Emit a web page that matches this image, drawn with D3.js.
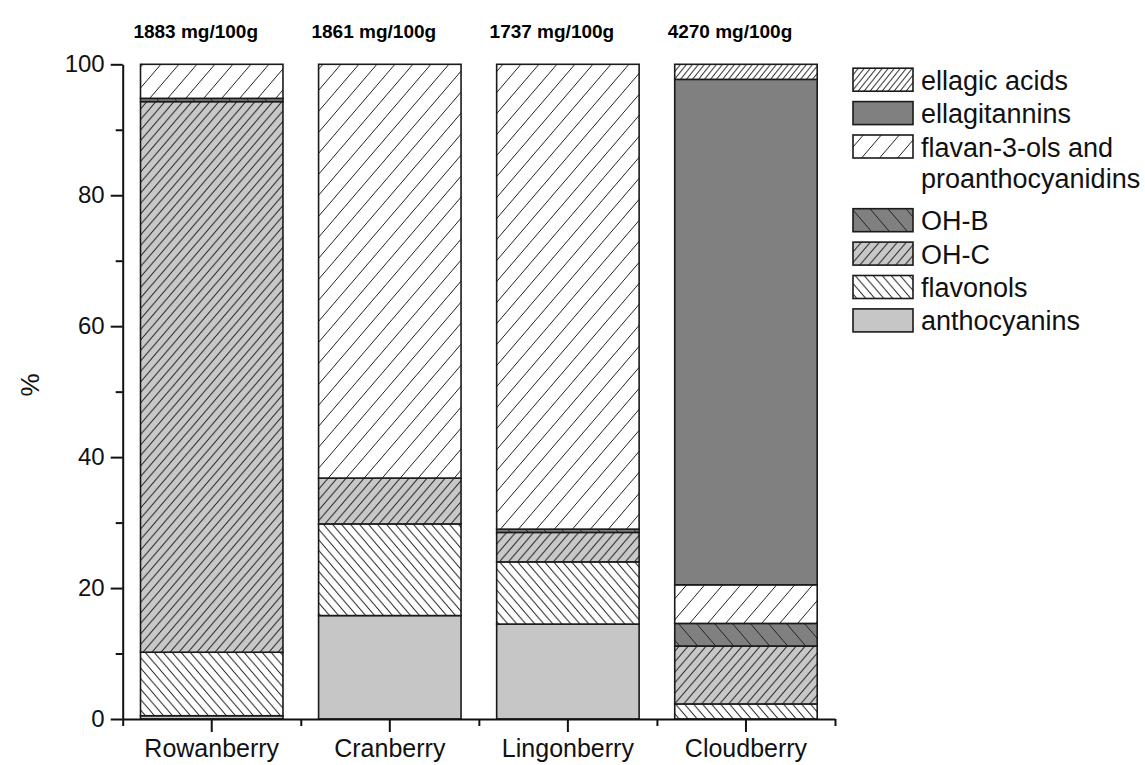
<!DOCTYPE html>
<html>
<head>
<meta charset="utf-8">
<script src="https://cdn.jsdelivr.net/npm/d3@7"></script>
<style>
  body { margin: 0; background: #fff; }
  svg { display: block; font-family: "Liberation Sans", Arial, sans-serif; }
</style>
</head>
<body>
<svg id="chart" width="1145" height="765"></svg>
<script>
// berries and their total phenolic content
var berries = ["Rowanberry", "Cranberry", "Lingonberry", "Cloudberry"];
var totals = ["1883 mg/100g", "1861 mg/100g", "1737 mg/100g", "4270 mg/100g"];

// % of total (bottom to top of each bar)
var anthocyanins = [0.5, 15.8, 14.5, 0];
var flavonols = [9.7, 14.0, 9.5, 2.3];
var ohC = [84.1, 7.0, 4.5, 8.85];
var ohB = [0.5, 0, 0.5, 3.45];
var flavanols = [5.2, 63.2, 71.0, 5.9];
var ellagitannins = [0, 0, 0, 77.2];
var ellagicAcids = [0, 0, 0, 2.3];

var stackKeys = ["anthocyanins", "flavonols", "OH-C", "OH-B", "flavan", "ellagitannins", "ellagic"];
var legendLabels = [
    ["ellagic", "ellagic acids"],
    ["ellagitannins", "ellagitannins"],
    ["flavan", "flavan-3-ols and", "proanthocyanidins"],
    ["OH-B", "OH-B"],
    ["OH-C", "OH-C"],
    ["flavonols", "flavonols"],
    ["anthocyanins", "anthocyanins"]
];

var yMajor = [0, 20, 40, 60, 80, 100];
var yMinor = [10, 30, 50, 70, 90];

document.addEventListener('DOMContentLoaded', function () {
    drawChart();
});

function makeHatch(defs, id, bg, dir, w, h) {
    var p = defs.append('pattern')
        .attr('id', id)
        .attr('patternUnits', 'userSpaceOnUse')
        .attr('width', w)
        .attr('height', h);
    p.append('rect').attr('width', w).attr('height', h).attr('fill', bg);
    var d = '';
    for (var k = -1; k <= 1; k++) {
        if (dir == '/') {
            d += 'M' + (k * w - w) + ',' + (2 * h) + 'L' + (k * w + 2 * w) + ',' + (-h);
        } else {
            d += 'M' + (k * w - w) + ',' + (-h) + 'L' + (k * w + 2 * w) + ',' + (2 * h);
        }
    }
    p.append('path').attr('d', d).attr('stroke', '#222').attr('stroke-width', 1).attr('fill', 'none');
}

function drawChart() {
    var svg = d3.select('#chart');
    svg.selectAll('*').remove();
    var defs = svg.append('defs');

    makeHatch(defs, 'p-ellagic', '#fff', '/', 6, 7.5);
    makeHatch(defs, 'p-flavan', '#fff', '/', 18, 21);
    makeHatch(defs, 'p-OH-B', '#808080', '\\', 18, 21);
    makeHatch(defs, 'p-OH-C', '#c8c8c8', '/', 9, 10.5);
    makeHatch(defs, 'p-flavonols', '#fff', '\\', 9, 10.5);

    var fills = {
        "anthocyanins": "#c6c6c6",
        "flavonols": "url(#p-flavonols)",
        "OH-C": "url(#p-OH-C)",
        "OH-B": "url(#p-OH-B)",
        "flavan": "url(#p-flavan)",
        "ellagitannins": "#808080",
        "ellagic": "url(#p-ellagic)"
    };

    var rows = berries.map(function (b, i) {
        return {
            berry: b,
            "anthocyanins": anthocyanins[i],
            "flavonols": flavonols[i],
            "OH-C": ohC[i],
            "OH-B": ohB[i],
            "flavan": flavanols[i],
            "ellagitannins": ellagitannins[i],
            "ellagic": ellagicAcids[i]
        };
    });
    var series = d3.stack().keys(stackKeys)(rows);

    var x0 = 122.7, x1 = 835;
    var x = d3.scaleBand().domain(berries).range([x0, x1]).paddingInner(0.2).paddingOuter(0.1);
    var xMinorScale = d3.scaleLinear().domain([0, berries.length]).range([x0, x1]);
    var y = d3.scaleLinear().domain([0, 100]).range([719, 64.3]);

    // bars
    var g = svg.append('g');
    series.forEach(function (s) {
        g.selectAll('.seg-' + s.key.replace(/\W/g, ''))
            .data(s.filter(function (d) { return d[1] - d[0] > 0; }))
            .enter()
            .append('rect')
            .attr('x', function (d) { return x(d.data.berry); })
            .attr('y', function (d) { return y(d[1]); })
            .attr('width', x.bandwidth())
            .attr('height', function (d) { return y(d[0]) - y(d[1]); })
            .attr('fill', fills[s.key])
            .attr('stroke', '#1a1a1a')
            .attr('stroke-width', 1.6);
    });

    // totals above bars
    svg.selectAll('.total')
        .data(berries)
        .enter()
        .append('text')
        .attr('x', function (d) { return x(d) + x.bandwidth() / 2 - 16; })
        .attr('y', 38)
        .attr('text-anchor', 'middle')
        .style('font-weight', 'bold')
        .style('font-size', '19px')
        .text(function (d, i) { return totals[i]; });

    // y axis
    var yAxis = d3.axisLeft(y).tickValues(yMajor).tickSize(12).tickSizeOuter(0).tickPadding(6);
    var ya = svg.append('g').attr('transform', 'translate(' + x0 + ',0)').call(yAxis);
    svg.append('g').attr('transform', 'translate(' + x0 + ',0)')
        .call(d3.axisLeft(y).tickValues(yMinor).tickSize(7).tickSizeOuter(0).tickFormat(''))
        .select('.domain').remove();

    // x axis
    var xAxis = d3.axisBottom(x).tickSize(13).tickSizeOuter(0).tickPadding(7);
    var xa = svg.append('g').attr('transform', 'translate(0,719)').call(xAxis);
    svg.append('g').attr('transform', 'translate(0,719)')
        .call(d3.axisBottom(xMinorScale).tickValues(d3.range(0, berries.length + 1)).tickSize(7).tickSizeOuter(0).tickFormat(''))
        .select('.domain').remove();

    svg.selectAll('.domain, .tick line').attr('stroke', '#111').attr('stroke-width', 2);
    ya.selectAll('text').style('font-size', '24px').attr('fill', '#111').style('font-family', '"Liberation Sans", Arial, sans-serif');
    xa.selectAll('text').style('font-size', '25px').attr('fill', '#111').style('font-family', '"Liberation Sans", Arial, sans-serif');

    svg.append('text')
        .attr('transform', 'translate(39,385) rotate(-90)')
        .attr('text-anchor', 'middle')
        .style('font-size', '26px')
        .attr('fill', '#111')
        .text('%');

    // legend
    var lg = svg.append('g').attr('transform', 'translate(853,0)');
    var rowY = 79.7, pitch = 33.4, wrapGap = 40.3, lineGap = 31;
    legendLabels.forEach(function (item) {
        lg.append('rect')
            .attr('x', 0).attr('y', rowY - 11.5)
            .attr('width', 60).attr('height', 23)
            .attr('fill', fills[item[0]])
            .attr('stroke', '#1a1a1a').attr('stroke-width', 1.6);
        for (var j = 1; j < item.length; j++) {
            lg.append('text')
                .attr('x', 68).attr('y', rowY + (j - 1) * lineGap + 10)
                .style('font-size', '27px')
                .attr('fill', '#111')
                .text(item[j]);
        }
        rowY += pitch + (item.length - 2) * wrapGap;
    });
}
</script>
</body>
</html>
